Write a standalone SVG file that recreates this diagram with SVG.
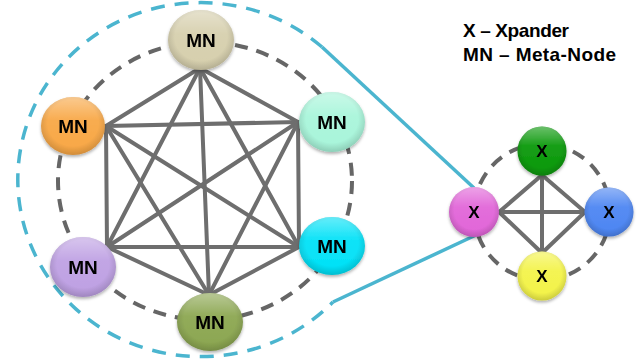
<svg xmlns="http://www.w3.org/2000/svg" width="639" height="364" viewBox="0 0 639 364">
  <style>
    .edge { stroke: #6e6e6e; stroke-width: 4; stroke-linecap: round; fill: none; }
    .ring { stroke: #666; stroke-width: 4; stroke-dasharray: 13 9; fill: none; }
    .zoom { stroke: #4bb5cf; stroke-width: 3.5; fill: none; }
    .zoom-dash { stroke-dasharray: 14 10; }
    .lbl { font-family: "Liberation Sans", Arial, sans-serif; font-weight: bold; fill: #000; text-anchor: middle; }
    .mn { font-size: 19px; }
    .x { font-size: 17px; }
    .legend { font-family: "Liberation Sans", Arial, sans-serif; font-weight: bold; font-size: 19px; fill: #000; }
    .gloss { fill: url(#gloss); }
    .rim { fill: url(#rim); }
  </style>
  <defs>
    <radialGradient id="rim" cx="50%" cy="45%" r="55%">
      <stop offset="0.72" stop-color="#000" stop-opacity="0"/>
      <stop offset="1" stop-color="#000" stop-opacity="0.16"/>
    </radialGradient>
    <linearGradient id="gloss" x1="0" y1="0" x2="0" y2="1">
      <stop offset="0" stop-color="#fff" stop-opacity="0.4"/>
      <stop offset="0.4" stop-color="#fff" stop-opacity="0.06"/>
      <stop offset="1" stop-color="#fff" stop-opacity="0"/>
    </linearGradient>
    <filter id="shadow" x="-20%" y="-20%" width="140%" height="150%">
      <feDropShadow dx="0" dy="2" stdDeviation="1.5" flood-color="#000" flood-opacity="0.3"/>
    </filter>
  </defs>

  <!-- zoom callout: dashed outline around the meta-node ring, solid lines to the xpander -->
  <g id="callout">
    <path class="zoom zoom-dash" d="M 322 47 A 183 177 0 1 0 333 302"/>
    <line class="zoom" x1="322" y1="47" x2="474" y2="188"/>
    <line class="zoom" x1="333" y1="302" x2="476" y2="235"/>
  </g>

  <!-- dashed rings -->
  <g id="rings">
    <ellipse class="ring" cx="205" cy="181" rx="147" ry="139"/>
    <circle class="ring" cx="542" cy="212" r="68"/>
  </g>

  <!-- connectors -->
  <g id="connectors">
    <!-- complete graph between the six meta-nodes -->
    <line class="edge" x1="200" y1="68" x2="106" y2="126"/>
    <line class="edge" x1="200" y1="68" x2="298" y2="122"/>
    <line class="edge" x1="200" y1="68" x2="299" y2="247"/>
    <line class="edge" x1="200" y1="68" x2="107" y2="247"/>
    <line class="edge" x1="200" y1="68" x2="209" y2="295"/>
    <line class="edge" x1="106" y1="126" x2="298" y2="122"/>
    <line class="edge" x1="106" y1="126" x2="299" y2="247"/>
    <line class="edge" x1="106" y1="126" x2="107" y2="247"/>
    <line class="edge" x1="106" y1="126" x2="209" y2="295"/>
    <line class="edge" x1="298" y1="122" x2="299" y2="247"/>
    <line class="edge" x1="298" y1="122" x2="107" y2="247"/>
    <line class="edge" x1="298" y1="122" x2="209" y2="295"/>
    <line class="edge" x1="299" y1="247" x2="107" y2="247"/>
    <line class="edge" x1="299" y1="247" x2="209" y2="295"/>
    <line class="edge" x1="107" y1="247" x2="209" y2="295"/>
    <!-- complete graph between the four xpander nodes -->
    <line class="edge" x1="542" y1="175" x2="499" y2="212"/>
    <line class="edge" x1="542" y1="175" x2="585" y2="212"/>
    <line class="edge" x1="542" y1="175" x2="542" y2="253"/>
    <line class="edge" x1="499" y1="212" x2="585" y2="212"/>
    <line class="edge" x1="499" y1="212" x2="542" y2="253"/>
    <line class="edge" x1="585" y1="212" x2="542" y2="253"/>
  </g>

  <!-- meta-nodes -->
  <g id="mn-top" filter="url(#shadow)">
    <ellipse cx="201" cy="40" rx="33" ry="30" fill="#d6cfad"/>
    <ellipse class="rim" cx="201" cy="40" rx="33" ry="30"/>
    <ellipse class="gloss" cx="201" cy="40" rx="33" ry="30"/>
    <text class="lbl mn" x="201" y="47">MN</text>
  </g>
  <g id="mn-upper-left" filter="url(#shadow)">
    <ellipse cx="73" cy="126" rx="32" ry="29" fill="#f8a745"/>
    <ellipse class="rim" cx="73" cy="126" rx="32" ry="29"/>
    <ellipse class="gloss" cx="73" cy="126" rx="32" ry="29"/>
    <text class="lbl mn" x="73" y="133">MN</text>
  </g>
  <g id="mn-upper-right" filter="url(#shadow)">
    <ellipse cx="332" cy="122" rx="33" ry="30" fill="#a8f5da"/>
    <ellipse class="rim" cx="332" cy="122" rx="33" ry="30"/>
    <ellipse class="gloss" cx="332" cy="122" rx="33" ry="30"/>
    <text class="lbl mn" x="332" y="129">MN</text>
  </g>
  <g id="mn-lower-right" filter="url(#shadow)">
    <ellipse cx="332" cy="246" rx="33" ry="29" fill="#00e1f7"/>
    <ellipse class="rim" cx="332" cy="246" rx="33" ry="29"/>
    <ellipse class="gloss" cx="332" cy="246" rx="33" ry="29"/>
    <text class="lbl mn" x="332" y="253">MN</text>
  </g>
  <g id="mn-lower-left" filter="url(#shadow)">
    <ellipse cx="83" cy="267" rx="33" ry="30" fill="#bea0e3"/>
    <ellipse class="rim" cx="83" cy="267" rx="33" ry="30"/>
    <ellipse class="gloss" cx="83" cy="267" rx="33" ry="30"/>
    <text class="lbl mn" x="83" y="274">MN</text>
  </g>
  <g id="mn-bottom" filter="url(#shadow)">
    <ellipse cx="210" cy="322" rx="33" ry="29" fill="#8ba650"/>
    <ellipse class="rim" cx="210" cy="322" rx="33" ry="29"/>
    <ellipse class="gloss" cx="210" cy="322" rx="33" ry="29"/>
    <text class="lbl mn" x="210" y="329">MN</text>
  </g>

  <!-- xpander nodes -->
  <g id="x-top" filter="url(#shadow)">
    <circle cx="542" cy="151" r="24.5" fill="#089808"/>
    <circle class="rim" cx="542" cy="151" r="24.5"/>
    <circle class="gloss" cx="542" cy="151" r="24.5"/>
    <text class="lbl x" x="542" y="157">X</text>
  </g>
  <g id="x-left" filter="url(#shadow)">
    <circle cx="474" cy="212" r="25" fill="#e165d8"/>
    <circle class="rim" cx="474" cy="212" r="25"/>
    <circle class="gloss" cx="474" cy="212" r="25"/>
    <text class="lbl x" x="474" y="218">X</text>
  </g>
  <g id="x-right" filter="url(#shadow)">
    <circle cx="609" cy="212" r="24.5" fill="#4c85f2"/>
    <circle class="rim" cx="609" cy="212" r="24.5"/>
    <circle class="gloss" cx="609" cy="212" r="24.5"/>
    <text class="lbl x" x="609" y="218">X</text>
  </g>
  <g id="x-bottom" filter="url(#shadow)">
    <circle cx="542" cy="276" r="24.5" fill="#f3f348"/>
    <circle class="rim" cx="542" cy="276" r="24.5"/>
    <circle class="gloss" cx="542" cy="276" r="24.5"/>
    <text class="lbl x" x="542" y="282">X</text>
  </g>

  <!-- legend -->
  <g id="legend">
    <text class="legend" x="463" y="37" textLength="106">X – Xpander</text>
    <text class="legend" x="463" y="61" textLength="153">MN – Meta-Node</text>
  </g>
</svg>
